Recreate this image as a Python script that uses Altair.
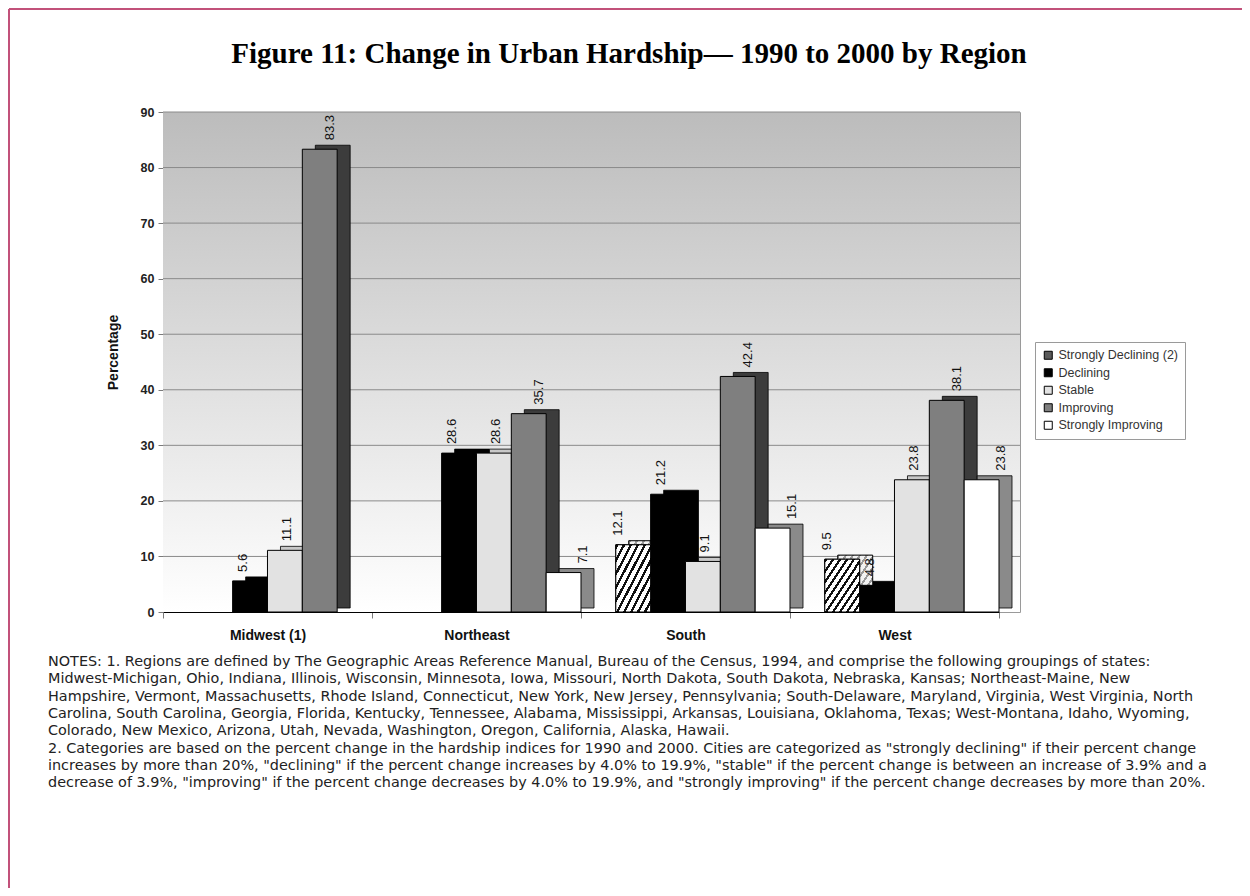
import altair as alt
import pandas as pd

REGIONS = ["Midwest (1)", "Northeast", "South", "West"]
CATEGORIES = ["Strongly Declining (2)", "Declining", "Stable", "Improving", "Strongly Improving"]
STRONGLY_DECLINING = [None, None, 12.1, 9.5]
DECLINING = [5.6, 28.6, 21.2, 4.8]
STABLE = [11.1, 28.6, 9.1, 23.8]
IMPROVING = [83.3, 35.7, 42.4, 38.1]
STRONGLY_IMPROVING = [None, 7.1, 15.1, 23.8]
Y_TICKS = [0, 10, 20, 30, 40, 50, 60, 70, 80, 90]
GRID_VALUES = [10, 20, 30, 40, 50, 60, 70, 80, 90]

TITLE = "Figure 11: Change in Urban Hardship\u2014 1990 to 2000 by Region"
NOTES = [
    "NOTES: 1.  Regions are defined by The Geographic Areas Reference Manual, Bureau of the Census, 1994, and comprise the following groupings of states:",
    "Midwest-Michigan, Ohio, Indiana, Illinois, Wisconsin, Minnesota, Iowa, Missouri, North Dakota, South Dakota, Nebraska, Kansas; Northeast-Maine, New",
    "Hampshire, Vermont, Massachusetts, Rhode Island, Connecticut, New York, New Jersey, Pennsylvania; South-Delaware, Maryland, Virginia, West Virginia, North",
    "Carolina, South Carolina, Georgia, Florida, Kentucky, Tennessee, Alabama, Mississippi, Arkansas, Louisiana, Oklahoma, Texas; West-Montana, Idaho, Wyoming,",
    "Colorado, New Mexico, Arizona, Utah, Nevada, Washington, Oregon, California, Alaska, Hawaii.",
    "2. Categories are based on the percent change in the hardship indices for 1990 and 2000.  Cities are categorized as \"strongly declining\" if their percent change",
    "increases by more than 20%, \"declining\" if the percent change increases by 4.0% to 19.9%, \"stable\" if the percent change is between an increase of 3.9% and a",
    "decrease of 3.9%, \"improving\" if the percent change decreases by 4.0% to 19.9%, and \"strongly improving\" if the percent change decreases by more than 20%.",
]

series = [STRONGLY_DECLINING, DECLINING, STABLE, IMPROVING, STRONGLY_IMPROVING]
rows = []
for cat, vals in zip(CATEGORIES, series):
    for reg, v in zip(REGIONS, vals):
        if v is not None:
            rows.append({"region": reg, "category": cat, "value": v, "label": f"{v:.1f}"})
df = pd.DataFrame(rows)
grid_df = pd.DataFrame({"v": GRID_VALUES})
wall_df = pd.DataFrame({"top": [90], "bottom": [0]})
one = pd.DataFrame({"a": [0]})

W, H = 857, 500
BAND_END = 836
STEP = BAND_END / 4
DEPTH_X, DEPTH_Y = 13, 4
GROUP_START = 34.8

FONT = "Liberation Sans"

front_colors = ["#5a5a5a", "#000000", "#e2e2e2", "#7f7f7f", "#ffffff"]
side_colors = ["#3a3a3a", "#000000", "#c8c8c8", "#3c3c3c", "#8a8a8a"]

x_enc = alt.X(
    "region:N",
    sort=REGIONS,
    scale=alt.Scale(domain=REGIONS, range=[0, BAND_END], paddingInner=0, paddingOuter=0),
    axis=alt.Axis(
        title=None, labelAngle=0, labelFont=FONT, labelFontWeight="bold", labelFontSize=14,
        labelColor="#111111", labelPadding=10, domainColor="#000000", domainWidth=1.2,
        tickColor="#7a7a7a", tickBand="extent", tickSize=6,
    ),
)
y_enc = alt.Y(
    "value:Q",
    scale=alt.Scale(domain=[0, 90], nice=False),
    axis=alt.Axis(
        values=Y_TICKS, grid=False, domainColor="#7a7a7a", tickColor="#7a7a7a", tickSize=5,
        labelFont=FONT, labelFontWeight="bold", labelFontSize=12.5, labelColor="#222222",
        labelPadding=4, title="Percentage", titleFont=FONT, titleFontWeight="bold",
        titleFontSize=14, titleColor="#111111", titleX=-50, titleY=240, titleAngle=270,
        titleAlign="center", titleBaseline="middle",
    ),
)
front_off = alt.XOffset(
    "category:N",
    scale=alt.Scale(domain=CATEGORIES, range=[GROUP_START, STEP], paddingInner=0, paddingOuter=0),
)
back_off = alt.XOffset(
    "category:N",
    scale=alt.Scale(domain=CATEGORIES, range=[GROUP_START + DEPTH_X, STEP + DEPTH_X], paddingInner=0, paddingOuter=0),
)

wall = alt.Chart(wall_df).mark_rect(
    color=alt.LinearGradient(
        gradient="linear", x1=0, y1=0, x2=0, y2=1,
        stops=[alt.GradientStop(color="#bcbcbc", offset=0), alt.GradientStop(color="#ffffff", offset=1)],
    )
).encode(y=alt.Y("top:Q", scale=alt.Scale(domain=[0, 90], nice=False)), y2="bottom:Q")

grid = alt.Chart(grid_df).mark_rule(color="#8a8a8a", strokeWidth=1).encode(y="v:Q")


def stripes(n, dark, light, frac):
    out = []
    for k in range(n):
        a = k / n
        b = (k + frac) / n
        c = (k + 1) / n
        out += [
            alt.GradientStop(color=dark, offset=a),
            alt.GradientStop(color=dark, offset=b),
            alt.GradientStop(color=light, offset=b),
            alt.GradientStop(color=light, offset=c),
        ]
    return out


back = alt.Chart(df).mark_bar(stroke="#000000", strokeWidth=0.8, yOffset=-DEPTH_Y, y2Offset=-DEPTH_Y).encode(
    x=x_enc, y=y_enc, xOffset=back_off,
    fill=alt.Fill("category:N", scale=alt.Scale(domain=CATEGORIES, range=side_colors), legend=None),
)

back_hatch = alt.Chart(df).transform_filter(
    alt.datum.category == CATEGORIES[0]
).mark_bar(
    stroke="#000000", strokeWidth=0.8, yOffset=-DEPTH_Y, y2Offset=-DEPTH_Y,
    color=alt.LinearGradient(gradient="linear", x1=0, y1=0, x2=1, y2=1, stops=stripes(10, "#9a9a9a", "#f2f2f2", 0.35)),
).encode(x=x_enc, y=y_enc, xOffset=back_off)

front = alt.Chart(df).mark_bar(stroke="#000000", strokeWidth=1).encode(
    x=x_enc, y=y_enc, xOffset=front_off,
    fill=alt.Fill(
        "category:N", scale=alt.Scale(domain=CATEGORIES, range=front_colors),
        sort=CATEGORIES, legend=alt.Legend(title=None),
    ),
)

hatch = alt.Chart(df).transform_filter(
    alt.datum.category == CATEGORIES[0]
).mark_bar(
    stroke="#000000", strokeWidth=1,
    color=alt.LinearGradient(gradient="linear", x1=0, y1=0, x2=1, y2=1, stops=stripes(10, "#111111", "#ffffff", 0.38)),
).encode(x=x_enc, y=y_enc, xOffset=front_off)

labels = alt.Chart(df).mark_text(
    angle=270, align="left", baseline="middle", dx=9, dy=2, font=FONT, fontSize=13, color="#111111"
).encode(x=x_enc, y=y_enc, xOffset=front_off, text="label:N")

frame_top = alt.Chart(one).mark_rule(color="#c2517a", strokeWidth=2).encode(
    x=alt.value(-154), x2=alt.value(1079), y=alt.value(-103)
)
frame_left = alt.Chart(one).mark_rule(color="#c2517a", strokeWidth=2).encode(
    x=alt.value(-154), y=alt.value(-103), y2=alt.value(776)
)
title = alt.Chart(one).mark_text(
    font="Liberation Serif", fontSize=29, fontWeight="bold", align="center", baseline="alphabetic", color="#000000"
).encode(x=alt.value(466), y=alt.value(-49), text=alt.value(TITLE))
notes = alt.Chart(one).mark_text(
    font="DejaVu Sans", fontSize=14.4, align="left", baseline="alphabetic", lineHeight=17.3, color="#222222"
).encode(x=alt.value(-115), y=alt.value(554), text=alt.value(NOTES))

chart = alt.layer(
    wall, grid, back, back_hatch, front, hatch, labels, frame_top, frame_left, title, notes
).resolve_scale(
    xOffset="independent", fill="independent"
).properties(
    width=W, height=H,
    autosize=alt.AutoSizeParams(type="none"),
    padding={"left": 155, "top": 104, "right": 222, "bottom": 276},
).configure_view(
    stroke="#9a9a9a", strokeWidth=1
).configure_legend(
    orient="none", legendX=872, legendY=230, padding=7, strokeColor="#9a9a9a", fillColor="#ffffff",
    symbolType="square", symbolSize=64, symbolStrokeColor="#000000", symbolStrokeWidth=1,
    labelFont=FONT, labelFontSize=12.5, labelColor="#333333", rowPadding=4.5, symbolOffset=0,
)

chart.save("out.html", embed_options={"renderer": "svg", "actions": False})
